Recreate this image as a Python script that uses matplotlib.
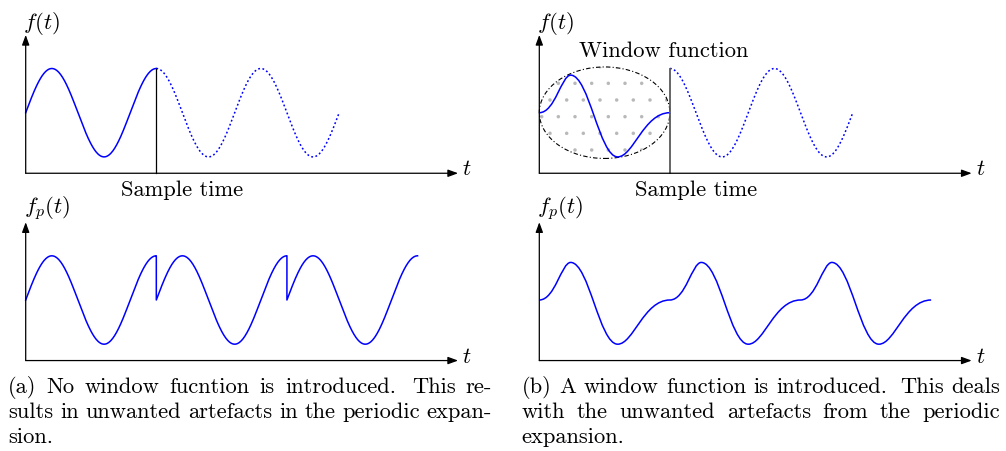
import numpy as np
import matplotlib.pyplot as plt
from matplotlib.patches import Ellipse, PathPatch
from matplotlib.path import Path

plt.rcParams['mathtext.fontset'] = 'cm'
plt.rcParams['axes.formatter.use_mathtext'] = True
plt.rcParams['hatch.linewidth'] = 0.1

W, H, DPI = 1006, 451, 100
FS = 16.2
BLUE = '#0000ff'

# signal f(t) = sin(t); the sample covers 1.25 periods
PERIOD = 2 * np.pi
SAMPLE_LEN = 1.25 * PERIOD
SHOWN_LEN = 3 * PERIOD      # end of the dotted continuation
N_REPEATS = 3               # copies in the periodic expansion

# windowed sample: knots (fraction of sample length, amplitude) joined by
# cubic pieces with flat tangents at every knot
win_knots_s = [0.0, 0.24, 0.60, 1.0]
win_knots_f = [0.0, 0.85, -1.0, 0.0]
win_handle_out = [0.12, 0.14, 0.12]
win_handle_in = [0.07, 0.14, 0.20]
WINDOW_H = 2.07             # height of the window ellipse

caption_a = ["(a) No window fucntion is introduced. This re-",
             "sults in unwanted artefacts in the periodic expan-",
             "sion."]
caption_b = ["(b) A window function is introduced. This deals",
             "with the unwanted artefacts from the periodic",
             "expansion."]

# drawing scale (pixels per unit) and axis extents
PX_T, PX_F = 16.63, 44.2
AXIS_F = -1.37
Y_TOP = 1.76
X_END = 26.0

fig = plt.figure(figsize=(W / DPI, H / DPI), dpi=DPI)


def panel(ox, oy):
    t0, t1 = -2.0, 29.0
    f0, f1 = -2.4, 2.6
    ax = fig.add_axes([(ox + t0 * PX_T) / W, 1 - (oy - f0 * PX_F) / H,
                       (t1 - t0) * PX_T / W, (f1 - f0) * PX_F / H])
    ax.set_xlim(t0, t1)
    ax.set_ylim(f0, f1)
    ax.axis('off')
    arrow = dict(arrowstyle='-|>,head_length=0.6,head_width=0.22', lw=0.9,
                 color='k', shrinkA=0, shrinkB=0, mutation_scale=10)
    ax.annotate('', xy=(X_END, AXIS_F), xytext=(0, AXIS_F), arrowprops=arrow)
    ax.annotate('', xy=(0, Y_TOP), xytext=(0, AXIS_F), arrowprops=arrow)
    ax.text(X_END + 0.25, AXIS_F + 0.1, '$t$', fontsize=16.5, ha='left', va='center')
    return ax


def window_path(n):
    verts, codes = [], []
    for k in range(n):
        off = k * SAMPLE_LEN
        for i in range(len(win_knots_s) - 1):
            s0, s1 = win_knots_s[i], win_knots_s[i + 1]
            f0, f1 = win_knots_f[i], win_knots_f[i + 1]
            if not verts:
                verts.append((off + s0 * SAMPLE_LEN, f0))
                codes.append(Path.MOVETO)
            verts += [(off + (s0 + win_handle_out[i]) * SAMPLE_LEN, f0),
                      (off + (s1 - win_handle_in[i]) * SAMPLE_LEN, f1),
                      (off + s1 * SAMPLE_LEN, f1)]
            codes += [Path.CURVE4] * 3
    return Path(verts, codes)


t_in = np.linspace(0, SAMPLE_LEN, 400)
t_out = np.linspace(SAMPLE_LEN, SHOWN_LEN, 500)
dots = (0, (1.2, 1.6))

# (a) top: raw sample and its continuation
ax = panel(25.7, 112.7)
ax.plot(t_in, np.sin(t_in), color=BLUE, lw=1.1)
ax.plot(t_out, np.sin(t_out), color=BLUE, lw=1.1, ls=dots)
ax.plot([SAMPLE_LEN, SAMPLE_LEN], [AXIS_F, np.sin(SAMPLE_LEN)], color='k', lw=0.9)
ax.text(-0.16, 2.02, '$f(t)$', fontsize=16.5, ha='left', va='center')
ax.text(9.4, -1.88, 'Sample time', fontsize=FS, family='cmr10', ha='center', va='baseline')

# (a) bottom: periodic expansion with jumps
ax = panel(25.7, 300)
tp = np.concatenate([k * SAMPLE_LEN + t_in for k in range(N_REPEATS)])
ax.plot(tp, np.tile(np.sin(t_in), N_REPEATS), color=BLUE, lw=1.1)
ax.text(-0.1, 2.06, '$f_p(t)$', fontsize=16.5, ha='left', va='center')

# (b) top: windowed sample
ax = panel(539.3, 112.7)
ax.add_patch(Ellipse((SAMPLE_LEN / 2, 0), SAMPLE_LEN, WINDOW_H, fill=False,
                     hatch='.', edgecolor='0.72', lw=0))
ax.add_patch(Ellipse((SAMPLE_LEN / 2, 0), SAMPLE_LEN, WINDOW_H, fill=False,
                     edgecolor='k', lw=0.8, ls=(0, (4, 2, 1, 2))))
ax.add_patch(PathPatch(window_path(1), fill=False, edgecolor=BLUE, lw=1.1))
ax.plot(t_out, np.sin(t_out), color=BLUE, lw=1.1, ls=dots)
ax.plot([SAMPLE_LEN, SAMPLE_LEN], [AXIS_F, np.sin(SAMPLE_LEN)], color='0.35', lw=1.3)
ax.text(-0.14, 2.02, '$f(t)$', fontsize=16.5, ha='left', va='center')
ax.text(7.5, 1.27, 'Window function', fontsize=FS, family='cmr10', ha='center', va='baseline')
ax.text(9.4, -1.88, 'Sample time', fontsize=FS, family='cmr10', ha='center', va='baseline')

# (b) bottom: periodic expansion of the windowed sample
ax = panel(539.3, 300)
ax.add_patch(PathPatch(window_path(N_REPEATS), fill=False, edgecolor=BLUE, lw=1.1))
ax.text(-0.14, 2.06, '$f_p(t)$', fontsize=16.5, ha='left', va='center')


def caption(lines, x_left, x_right, y_first, line_gap):
    renderer = fig.canvas.get_renderer()
    for i, line in enumerate(lines):
        words = line.split(' ')
        y = 1 - (y_first + i * line_gap) / H
        texts = [fig.text(0, y, w, fontsize=FS, family='cmr10', va='baseline') for w in words]
        widths = [t.get_window_extent(renderer).width for t in texts]
        # wider glue after a full stop, as TeX does
        weights = [1.6 if w.endswith('.') else 1.0 for w in words[:-1]]
        if i == len(lines) - 1 or not weights:
            unit = 0.333 * FS * DPI / 72
        else:
            unit = (x_right - x_left - sum(widths)) / sum(weights)
        x = x_left
        for j, t in enumerate(texts):
            t.set_x(x / W)
            if j < len(weights):
                x += widths[j] + weights[j] * unit


caption(caption_a, 8.3, 492, 392.7, 25.3)
caption(caption_b, 521.7, 1000, 392.7, 25.3)

fig.savefig('out.png', dpi=DPI)
